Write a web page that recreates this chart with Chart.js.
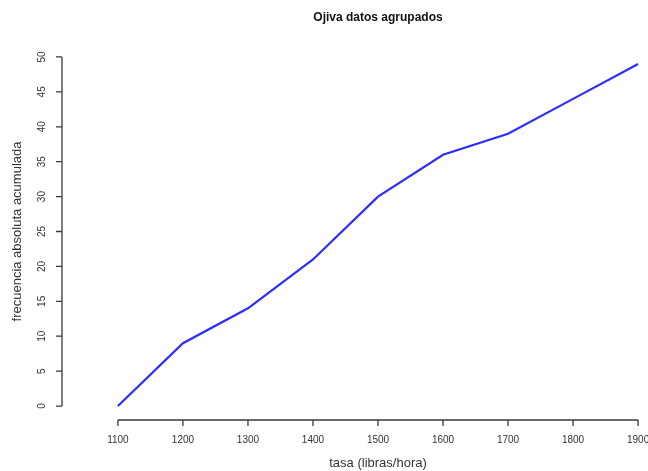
<!DOCTYPE html>
<html>
<head>
<meta charset="utf-8">
<title>Ojiva datos agrupados</title>
<script src="https://cdn.jsdelivr.net/npm/chart.js@4/dist/chart.umd.min.js"></script>
<style>
  html, body { margin: 0; padding: 0; background: #ffffff; overflow: hidden; }
  #wrap { width: 720px; height: 471px; }
  canvas { display: block; }
</style>
</head>
<body>
<div id="wrap"><canvas id="ojiva" width="720" height="471"></canvas></div>
<script>
// Límites superiores de clase (libras/hora) y frecuencia absoluta acumulada
const limites = [1100, 1200, 1300, 1400, 1500, 1600, 1700, 1800, 1900];
const frecuenciaAcumulada = [0, 9, 14, 21, 30, 36, 39, 44, 49];

// Marcas de los ejes
const ticksX = [1100, 1200, 1300, 1400, 1500, 1600, 1700, 1800, 1900];
const ticksY = [0, 5, 10, 15, 20, 25, 30, 35, 40, 45, 50];

const FONT = "'Liberation Sans', Arial, Helvetica, sans-serif";
const AXIS_COLOR = '#3a3a3a';

// Ejes al estilo de R: la línea sólo cubre el rango de las marcas
const ejesR = {
  id: 'ejesR',
  afterDraw(chart) {
    const { ctx, chartArea, scales: { x, y } } = chart;
    const tick = 6;
    ctx.save();
    ctx.strokeStyle = AXIS_COLOR;
    ctx.lineWidth = 1.3;
    ctx.lineCap = 'butt';

    // eje X
    const yb = chartArea.bottom;
    const x0 = x.getPixelForValue(ticksX[0]);
    const x1 = x.getPixelForValue(ticksX[ticksX.length - 1]);
    ctx.beginPath();
    ctx.moveTo(x0, yb);
    ctx.lineTo(x1, yb);
    ticksX.forEach(v => {
      const px = x.getPixelForValue(v);
      ctx.moveTo(px, yb);
      ctx.lineTo(px, yb + tick);
    });
    ctx.stroke();

    // eje Y
    const xl = chartArea.left;
    const y0 = y.getPixelForValue(ticksY[0]);
    const y1 = y.getPixelForValue(ticksY[ticksY.length - 1]);
    ctx.beginPath();
    ctx.moveTo(xl, y0);
    ctx.lineTo(xl, y1);
    ticksY.forEach(v => {
      const py = y.getPixelForValue(v);
      ctx.moveTo(xl, py);
      ctx.lineTo(xl - tick, py);
    });
    ctx.stroke();
    ctx.restore();
  }
};

new Chart(document.getElementById('ojiva'), {
  type: 'line',
  data: {
    datasets: [{
      label: 'Ojiva',
      data: limites.map((v, i) => ({ x: v, y: frecuenciaAcumulada[i] })),
      borderColor: 'rgb(45, 45, 255)',
      borderWidth: 2.2,
      pointRadius: 0,
      tension: 0,
      fill: false
    }]
  },
  options: {
    responsive: false,
    animation: false,
    devicePixelRatio: 1,
    layout: { padding: { left: 0, right: 26, top: 0, bottom: 0 } },
    plugins: {
      legend: { display: false },
      tooltip: { enabled: false },
      title: {
        display: true,
        text: 'Ojiva datos agrupados',
        fullSize: false,
        color: '#111111',
        font: { family: FONT, size: 12, weight: 'bold' },
        padding: { top: 10, bottom: 18.6 }
      }
    },
    scales: {
      x: {
        type: 'linear',
        min: 1014,
        max: 1986,
        grid: { display: false, drawTicks: false },
        border: { display: false },
        afterBuildTicks: s => { s.ticks = ticksX.map(v => ({ value: v })); },
        afterFit: s => { s.height = 51; },
        ticks: {
          autoSkip: false,
          maxRotation: 0,
          minRotation: 0,
          padding: 14,
          color: '#333333',
          font: { family: FONT, size: 10 },
          callback: v => String(v)
        },
        title: {
          display: true,
          text: 'tasa (libras/hora)',
          color: '#333333',
          font: { family: FONT, size: 13 },
          padding: { top: 0, bottom: 0 }
        }
      },
      y: {
        type: 'linear',
        min: -2,
        max: 52,
        grid: { display: false, drawTicks: false },
        border: { display: false },
        afterBuildTicks: s => { s.ticks = ticksY.map(v => ({ value: v })); },
        afterFit: s => { s.width = 62; },
        ticks: {
          autoSkip: false,
          minRotation: 90,
          maxRotation: 90,
          crossAlign: 'center',
          padding: 14,
          color: '#333333',
          font: { family: FONT, size: 10 },
          callback: v => String(v)
        },
        title: {
          display: true,
          text: 'frecuencia absoluta acumulada',
          color: '#333333',
          font: { family: FONT, size: 13 },
          padding: { top: 10, bottom: 0 }
        }
      }
    }
  },
  plugins: [ejesR]
});
</script>
</body>
</html>
